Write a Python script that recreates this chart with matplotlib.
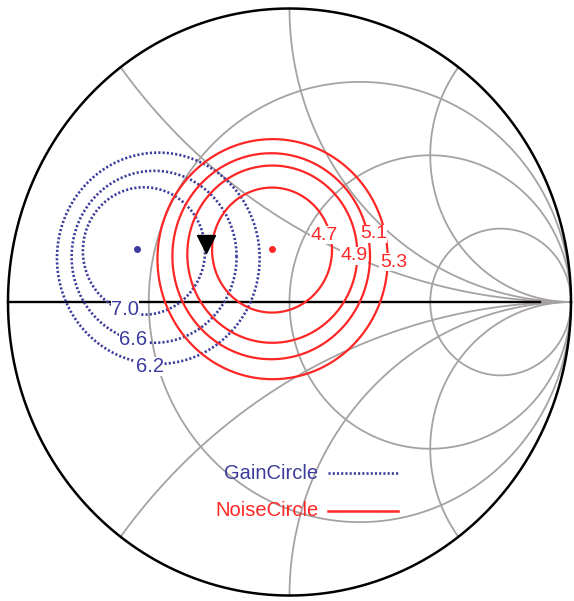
import numpy as np
import matplotlib.pyplot as plt

plt.rcParams['font.family'] = ['Liberation Sans', 'DejaVu Sans']

# Smith chart grid values
r_circles = [1/3, 1, 3]
x_arcs = [0.5, 1, 2, -0.5, -1, -2]

# gain circles (dB), centre and radius in the reflection plane
gain_levels = ['7.0', '6.6', '6.2']
gain_cx = [-0.517, -0.481, -0.466]
gain_cy = [0.174, 0.154, 0.149]
gain_rad = [0.217, 0.293, 0.36]
gain_label_x = [-0.584, -0.555, -0.496]
gain_label_y = [-0.027, -0.127, -0.220]

# noise circles (dB)
noise_levels = ['4.7', '4.9', '5.1', '5.3']
noise_cx = [-0.062, -0.061, -0.065, -0.060]
noise_cy = [0.177, 0.163, 0.156, 0.146]
noise_rad = [0.213, 0.302, 0.351, 0.409]
noise_label_x = [0.123, 0.229, 0.298, 0.369]
noise_label_y = [0.228, 0.157, 0.232, 0.136]

gain_max = (-0.541, 0.181)
noise_min = (-0.063, 0.181)
design_pt = (-0.298, 0.198)

blue = '#3c3c9c'
red = '#ff2626'
gray = '#a6a2a2'

fig = plt.figure(figsize=(5.74, 6.01), dpi=100)
ax = fig.add_axes([0, 0, 1, 1])
ax.set_xlim(-1.0284, 1.0107)
ax.set_ylim(-1.0187, 1.029)
ax.axis('off')

# grid
th = np.linspace(-np.pi / 2 + 1e-4, np.pi / 2 - 1e-4, 2000)
for r in r_circles:
    g = (r + 1j * np.tan(th) - 1) / (r + 1j * np.tan(th) + 1)
    ax.plot(g.real, g.imag, color=gray, lw=1.3, zorder=1)
for x in x_arcs:
    rr = np.tan(np.linspace(0, np.pi / 2 - 1e-4, 2000))
    g = (rr + 1j * x - 1) / (rr + 1j * x + 1)
    ax.plot(g.real, g.imag, color=gray, lw=1.3, zorder=1)
ax.plot([-1, 1], [0, 0], color=gray, lw=1.3, zorder=1)
ax.plot([-1, 0.89], [0, 0], color='black', lw=1.7, zorder=2)

t = np.linspace(0, 2 * np.pi, 721)
ax.plot(np.cos(t), np.sin(t), color='black', lw=1.8, zorder=2)

# gain circles
for i, lev in enumerate(gain_levels):
    ax.plot(gain_cx[i] + gain_rad[i] * np.cos(t), gain_cy[i] + gain_rad[i] * np.sin(t),
            color=blue, lw=1.9, ls=(0, (0.8, 0.8)), zorder=3)
    ax.text(gain_label_x[i], gain_label_y[i], lev, color=blue, fontsize=14.5,
            ha='center', va='center', zorder=6,
            bbox=dict(facecolor='white', edgecolor='none', pad=0.3))

# noise circles
for i, lev in enumerate(noise_levels):
    ax.plot(noise_cx[i] + noise_rad[i] * np.cos(t), noise_cy[i] + noise_rad[i] * np.sin(t),
            color=red, lw=1.6, zorder=4)
    ax.text(noise_label_x[i], noise_label_y[i], lev, color=red, fontsize=14,
            ha='center', va='center', zorder=6,
            bbox=dict(facecolor='white', edgecolor='none', pad=0.3))

ax.plot(*gain_max, 'o', color=blue, ms=4, zorder=5)
ax.plot(*noise_min, 'o', color=red, ms=4, zorder=5)
ax.plot(*design_pt, 'v', color='black', ms=13, zorder=7)

# legend
ax.text(0.102, -0.583, 'GainCircle', color=blue, fontsize=14.5, ha='right', va='center')
ax.plot([0.137, 0.385], [-0.583, -0.583], color=blue, lw=1.9, ls=(0, (0.8, 0.8)))
ax.text(0.102, -0.712, 'NoiseCircle', color=red, fontsize=14.5, ha='right', va='center')
ax.plot([0.137, 0.385], [-0.712, -0.712], color=red, lw=1.8)

fig.savefig('out.png', dpi=100)
